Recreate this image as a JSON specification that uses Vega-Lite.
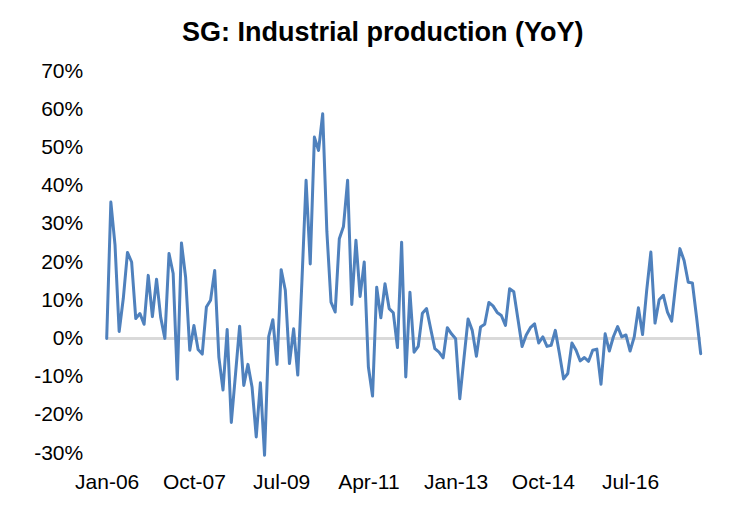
{
  "$schema": "https://vega.github.io/schema/vega-lite/v6.json",
  "autosize": {"type": "none"},
  "width": 594,
  "height": 382,
  "padding": {"left": 106.7, "top": 71, "right": 31.3, "bottom": 65},
  "background": "white",
  "config": {
    "view": {"stroke": null},
    "font": "Liberation Sans",
    "axis": {"labelOverlap": false, "labelFont": "Liberation Sans", "labelFontSize": 21, "labelColor": "#000000", "domain": false, "ticks": false, "grid": false, "title": null}
  },
  "title": {
    "text": "SG: Industrial production (YoY)",
    "font": "Liberation Sans",
    "fontSize": 27,
    "fontWeight": "bold",
    "color": "#000000",
    "anchor": "middle",
    "frame": "group",
    "offset": 13,
    "dx": -21
  },
  "data": {
    "values": [
      {"m":"Jan-06","v":0},{"m":"Feb-06","v":35.7},{"m":"Mar-06","v":24.5},{"m":"Apr-06","v":1.8},{"m":"May-06","v":10.5},{"m":"Jun-06","v":22.5},{"m":"Jul-06","v":20},{"m":"Aug-06","v":5.2},{"m":"Sep-06","v":6.5},{"m":"Oct-06","v":3.7},{"m":"Nov-06","v":16.5},{"m":"Dec-06","v":5.7},
      {"m":"Jan-07","v":15.5},{"m":"Feb-07","v":5.5},{"m":"Mar-07","v":0},{"m":"Apr-07","v":22.2},{"m":"May-07","v":17},{"m":"Jun-07","v":-10.7},{"m":"Jul-07","v":25},{"m":"Aug-07","v":16},{"m":"Sep-07","v":-3.1},{"m":"Oct-07","v":3.4},{"m":"Nov-07","v":-2.9},{"m":"Dec-07","v":-4.1},
      {"m":"Jan-08","v":8.2},{"m":"Feb-08","v":10},{"m":"Mar-08","v":17.8},{"m":"Apr-08","v":-4.9},{"m":"May-08","v":-13.5},{"m":"Jun-08","v":2.3},{"m":"Jul-08","v":-22},{"m":"Aug-08","v":-9.5},{"m":"Sep-08","v":3.2},{"m":"Oct-08","v":-12.3},{"m":"Nov-08","v":-6.8},{"m":"Dec-08","v":-12.8},
      {"m":"Jan-09","v":-25.8},{"m":"Feb-09","v":-11.6},{"m":"Mar-09","v":-30.6},{"m":"Apr-09","v":0.5},{"m":"May-09","v":4.9},{"m":"Jun-09","v":-6.8},{"m":"Jul-09","v":18},{"m":"Aug-09","v":12.6},{"m":"Sep-09","v":-6.6},{"m":"Oct-09","v":2.5},{"m":"Nov-09","v":-9.6},{"m":"Dec-09","v":15},
      {"m":"Jan-10","v":41.4},{"m":"Feb-10","v":19.5},{"m":"Mar-10","v":52.7},{"m":"Apr-10","v":49.2},{"m":"May-10","v":58.8},{"m":"Jun-10","v":28},{"m":"Jul-10","v":9.5},{"m":"Aug-10","v":6.9},{"m":"Sep-10","v":26.1},{"m":"Oct-10","v":29.3},{"m":"Nov-10","v":41.4},{"m":"Dec-10","v":8.9},
      {"m":"Jan-11","v":25.7},{"m":"Feb-11","v":11},{"m":"Mar-11","v":20},{"m":"Apr-11","v":-7.5},{"m":"May-11","v":-15.1},{"m":"Jun-11","v":13.4},{"m":"Jul-11","v":5.4},{"m":"Aug-11","v":14.3},{"m":"Sep-11","v":7.8},{"m":"Oct-11","v":6.7},{"m":"Nov-11","v":-2.4},{"m":"Dec-11","v":25.2},
      {"m":"Jan-12","v":-10.1},{"m":"Feb-12","v":12.1},{"m":"Mar-12","v":-3.6},{"m":"Apr-12","v":-2.1},{"m":"May-12","v":6.6},{"m":"Jun-12","v":7.8},{"m":"Jul-12","v":2.5},{"m":"Aug-12","v":-2.7},{"m":"Sep-12","v":-3.6},{"m":"Oct-12","v":-5.1},{"m":"Nov-12","v":2.8},{"m":"Dec-12","v":1.2},
      {"m":"Jan-13","v":-0.1},{"m":"Feb-13","v":-15.8},{"m":"Mar-13","v":-5.3},{"m":"Apr-13","v":5.1},{"m":"May-13","v":2.1},{"m":"Jun-13","v":-4.7},{"m":"Jul-13","v":3},{"m":"Aug-13","v":3.7},{"m":"Sep-13","v":9.4},{"m":"Oct-13","v":8.5},{"m":"Nov-13","v":6.8},{"m":"Dec-13","v":6},
      {"m":"Jan-14","v":3.4},{"m":"Feb-14","v":13},{"m":"Mar-14","v":12.2},{"m":"Apr-14","v":5.1},{"m":"May-14","v":-2.1},{"m":"Jun-14","v":0.9},{"m":"Jul-14","v":2.8},{"m":"Aug-14","v":3.8},{"m":"Sep-14","v":-1.2},{"m":"Oct-14","v":0.4},{"m":"Nov-14","v":-2.1},{"m":"Dec-14","v":-1.8},
      {"m":"Jan-15","v":2.1},{"m":"Feb-15","v":-4},{"m":"Mar-15","v":-10.6},{"m":"Apr-15","v":-9.2},{"m":"May-15","v":-1.2},{"m":"Jun-15","v":-3.1},{"m":"Jul-15","v":-5.9},{"m":"Aug-15","v":-5},{"m":"Sep-15","v":-6},{"m":"Oct-15","v":-3.1},{"m":"Nov-15","v":-2.8},{"m":"Dec-15","v":-12},
      {"m":"Jan-16","v":1.2},{"m":"Feb-16","v":-3.3},{"m":"Mar-16","v":0.5},{"m":"Apr-16","v":3.1},{"m":"May-16","v":0.4},{"m":"Jun-16","v":0.9},{"m":"Jul-16","v":-3.3},{"m":"Aug-16","v":0.4},{"m":"Sep-16","v":8},{"m":"Oct-16","v":1},{"m":"Nov-16","v":12.6},{"m":"Dec-16","v":22.6},
      {"m":"Jan-17","v":4},{"m":"Feb-17","v":10.1},{"m":"Mar-17","v":11.3},{"m":"Apr-17","v":6.9},{"m":"May-17","v":4.5},{"m":"Jun-17","v":14.3},{"m":"Jul-17","v":23.5},{"m":"Aug-17","v":20.4},{"m":"Sep-17","v":14.7},{"m":"Oct-17","v":14.5},{"m":"Nov-17","v":5.6},{"m":"Dec-17","v":-4}
    ]
  },
  "encoding": {
    "x": {
      "field": "m", "type": "ordinal", "sort": null,
      "scale": {"type": "point", "padding": 0},
      "axis": {
        "values": ["Jan-06","Oct-07","Jul-09","Apr-11","Jan-13","Oct-14","Jul-16"],
        "labelAngle": 0,
        "labelPadding": 18,
        "labelOverlap": false
      }
    }
  },
  "layer": [
    {
      "mark": {"type": "rule", "color": "#d9d9d9", "strokeWidth": 2},
      "encoding": {
        "x": null,
        "y": {"datum": 0, "type": "quantitative", "scale": {"domain": [-30, 70], "nice": false, "zero": false},
          "axis": {"values": [-30,-20,-10,0,10,20,30,40,50,60,70], "labelExpr": "datum.value + '%'", "labelPadding": 24, "labelOverlap": false, "tickCount": 11}}
      }
    },
    {
      "mark": {"type": "line", "color": "#4f81bd", "strokeWidth": 3, "strokeJoin": "round", "strokeCap": "round"},
      "encoding": {
        "y": {
          "field": "v", "type": "quantitative",
          "scale": {"domain": [-30, 70], "nice": false, "zero": false},
          "axis": {"values": [-30,-20,-10,0,10,20,30,40,50,60,70], "labelExpr": "datum.value + '%'", "labelPadding": 24, "labelOverlap": false, "tickCount": 11}
        }
      }
    }
  ]
}
